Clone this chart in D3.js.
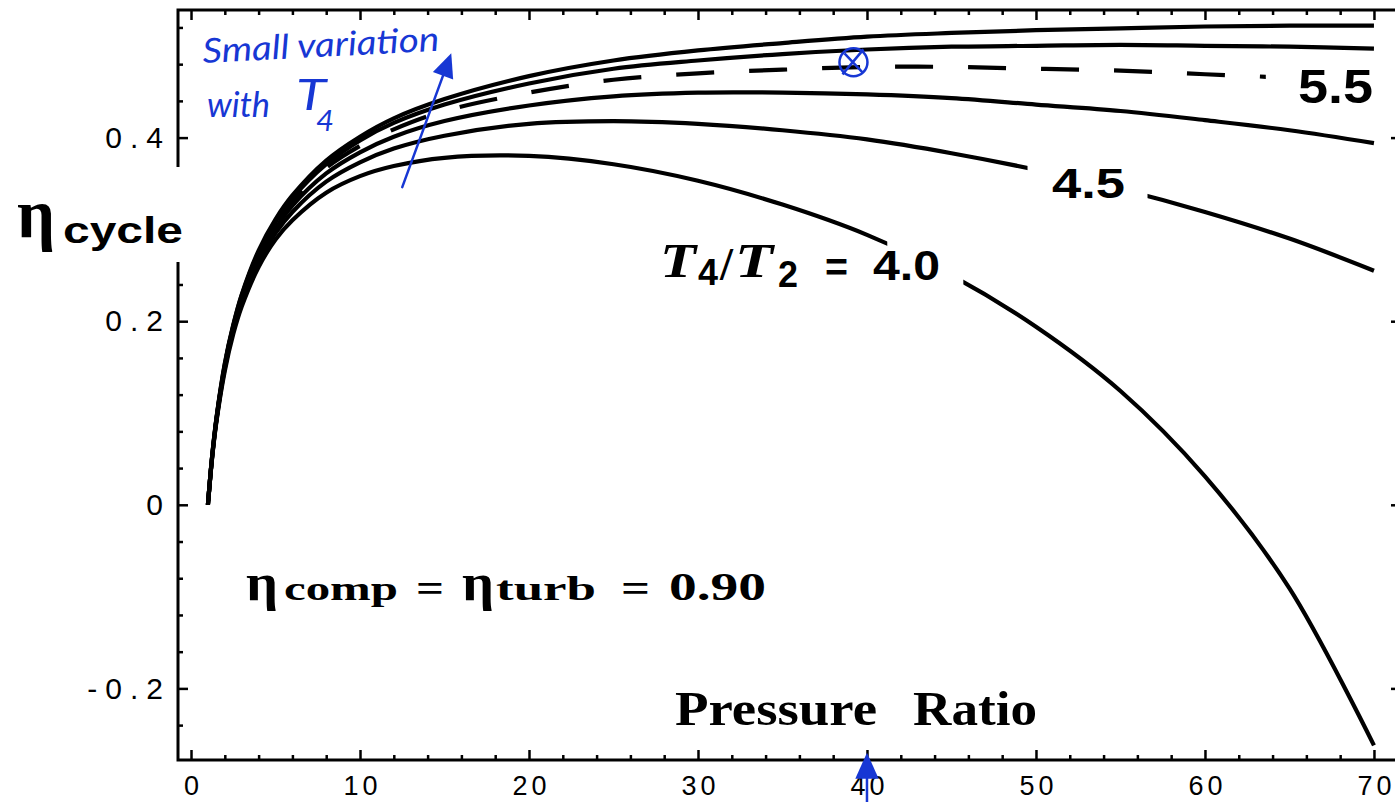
<!DOCTYPE html>
<html>
<head>
<meta charset="utf-8">
<script src="https://cdn.jsdelivr.net/npm/d3@7"></script>
<style>
  body { margin: 0; background: #fff; }
  svg { display: block; }
</style>
</head>
<body>
<svg width="1395" height="802"></svg>
<script>
// Brayton cycle efficiency vs pressure ratio
const pressureRatio = [1, 1.25, 1.5, 2, 2.5, 3, 4, 5, 6, 8, 10, 12, 15, 20, 25, 30, 35, 40, 45, 50, 55, 60, 65, 70];
const etaT40 = [0, .051, .090, .146, .186, .216, .259, .289, .310, .340, .358, .369, .378, .380, .371, .353, .327, .294, .250, .194, .124, .031, -.091, -.262];
const etaT45 = [0, .052, .091, .149, .190, .221, .265, .296, .319, .352, .373, .388, .402, .415, .418, .415, .408, .398, .383, .365, .344, .319, .290, .255];
const etaT50 = [0, .052, .092, .151, .192, .224, .269, .301, .326, .361, .384, .401, .418, .435, .445, .449, .449, .447, .443, .436, .429, .419, .408, .394];
const etaT55 = [0, .053, .093, .152, .194, .226, .273, .305, .330, .367, .391, .409, .429, .449, .463, .470, .474, .477, .477, .475, .473, .469, .465, .459];
const etaT60 = [0, .053, .093, .153, .195, .228, .275, .308, .334, .371, .397, .416, .436, .459, .475, .484, .491, .496, .499, .500, .501, .500, .499, .497];
const etaT65 = [0, .053, .094, .154, .196, .229, .277, .311, .337, .375, .401, .421, .442, .467, .484, .495, .503, .510, .514, .517, .519, .521, .522, .522];

const temperatureRatios = ["4.0", "4.5", "5.0", "5.5", "6.0", "6.5"];
const etaSeries = [etaT40, etaT45, etaT50, etaT55, etaT60, etaT65];

const xMajorTicks = [0, 10, 20, 30, 40, 50, 60, 70];
const xTickLabels = ["0", "10", "20", "30", "40", "50", "60", "70"];
const yMajorTicks = [-0.2, 0, 0.2, 0.4];
const yTickLabels = ["-0.2", "0", "0.2", "0.4"];

// plot range of the frame (data units)
const plotRangeX = [-0.77, 71.6];
const plotRangeY = [-0.278, 0.539];

const svg = d3.select("svg");
const serif = "'Liberation Serif', 'Times New Roman', serif";
const sans = "'Liberation Sans', Arial, sans-serif";
const blue = "#1737d4";

const x = d3.scaleLinear().domain(plotRangeX).range([178, 1401]);
const y = d3.scaleLinear().domain(plotRangeY).range([760, 10]);

// ---- frame with inward ticks ----
const xMinor = d3.range(0, 71, 2).filter(d => d % 10 !== 0);
const yMinor = d3.range(-6, 14).filter(i => i % 5 !== 0).map(i => +(i * 0.04).toFixed(2));

function styleAxis(g) {
  g.select(".domain").remove();
  g.selectAll(".tick line").attr("stroke", "#000").attr("stroke-width", 2.5);
  g.selectAll(".tick text").attr("fill", "#000");
}

const frame = svg.append("g");

frame.append("g").attr("transform", `translate(0,${y(plotRangeY[0])})`)
  .call(d3.axisBottom(x).tickValues(xMinor).tickSize(-5).tickFormat(""))
  .call(styleAxis);
frame.append("g").attr("transform", `translate(0,${y(plotRangeY[0])})`)
  .call(d3.axisBottom(x).tickValues(xMajorTicks).tickSize(-10).tickPadding(16)
    .tickFormat((d, i) => xTickLabels[i]))
  .call(styleAxis)
  .call(g => g.selectAll(".tick text")
    .attr("font-family", sans).attr("font-size", 27)
    .attr("letter-spacing", 4).attr("dx", 2));

frame.append("g").attr("transform", `translate(0,${y(plotRangeY[1])})`)
  .call(d3.axisTop(x).tickValues(xMinor).tickSize(-5).tickFormat(""))
  .call(styleAxis);
frame.append("g").attr("transform", `translate(0,${y(plotRangeY[1])})`)
  .call(d3.axisTop(x).tickValues(xMajorTicks).tickSize(-10).tickFormat(""))
  .call(styleAxis);

frame.append("g").attr("transform", `translate(${x(plotRangeX[0])},0)`)
  .call(d3.axisLeft(y).tickValues(yMinor).tickSize(-5).tickFormat(""))
  .call(styleAxis);
frame.append("g").attr("transform", `translate(${x(plotRangeX[0])},0)`)
  .call(d3.axisLeft(y).tickValues(yMajorTicks).tickSize(-10).tickPadding(7)
    .tickFormat((d, i) => yTickLabels[i]))
  .call(styleAxis)
  .call(g => g.selectAll(".tick text")
    .attr("font-family", sans).attr("font-size", 30)
    .attr("letter-spacing", 8));

frame.append("g").attr("transform", `translate(${x(plotRangeX[1])},0)`)
  .call(d3.axisRight(y).tickValues(yMajorTicks).tickSize(-10).tickFormat(""))
  .call(styleAxis);

frame.append("rect")
  .attr("x", x(plotRangeX[0])).attr("y", y(plotRangeY[1]))
  .attr("width", x(plotRangeX[1]) - x(plotRangeX[0]))
  .attr("height", y(plotRangeY[0]) - y(plotRangeY[1]))
  .attr("fill", "none").attr("stroke", "#000").attr("stroke-width", 3);

// ---- curves (with gaps where the labels sit) ----
const labelGaps = { "4.0": [41.2, 45.7], "4.5": [49.5, 56.6], "5.5": [63.6, 80] };

const defs = svg.append("defs");
const line = d3.line()
  .x((d, i) => x(pressureRatio[i]))
  .y(d => y(d))
  .curve(d3.curveCatmullRom.alpha(0.5));

const curves = svg.append("g");
temperatureRatios.forEach((t, k) => {
  const gap = labelGaps[t];
  const path = curves.append("path")
    .datum(etaSeries[k])
    .attr("d", line)
    .attr("fill", "none")
    .attr("stroke", "#000")
    .attr("stroke-width", 4.2)
    .attr("stroke-linejoin", "round");
  if (gap) {
    const id = "clip" + k;
    const cp = defs.append("clipPath").attr("id", id);
    cp.append("rect").attr("x", 0).attr("y", 0).attr("width", x(gap[0])).attr("height", 802);
    cp.append("rect").attr("x", x(gap[1])).attr("y", 0).attr("width", 1395).attr("height", 802);
    path.attr("clip-path", `url(#${id})`);
  }
  if (t === "5.5") {
    // dashes with a period of ~73px, one dash starting near x = 895
    const node = path.node();
    const total = node.getTotalLength();
    let lo = 0, hi = total;
    for (let n = 0; n < 30; n++) {
      const mid = (lo + hi) / 2;
      if (node.getPointAtLength(mid).x < 895) lo = mid; else hi = mid;
    }
    path.attr("stroke-dasharray", "38,35")
      .attr("stroke-dashoffset", 73 - (lo % 73));
  }
});

// ---- text labels ----
function piece(g, px, py, str, font, size, width, opts = {}) {
  const t = g.append("text")
    .attr("x", px).attr("y", py)
    .attr("font-family", font)
    .attr("font-size", size)
    .attr("font-weight", opts.weight || "bold")
    .attr("font-style", opts.italic ? "italic" : "normal")
    .attr("fill", opts.fill || "#000")
    .text(str);
  if (width) t.attr("textLength", width).attr("lengthAdjust", "spacingAndGlyphs");
  return t;
}

const labels = svg.append("g");

// y axis title with a gap in the frame line
labels.append("rect").attr("x", 168).attr("y", 167).attr("width", 20).attr("height", 95).attr("fill", "#fff");
piece(labels, 17, 237, "η", serif, 70, 38);
piece(labels, 63, 243, "cycle", sans, 37, 120);

// efficiency note
piece(labels, 246, 600, "η", serif, 52, 32);
piece(labels, 284, 600, "comp", serif, 33, 114);
piece(labels, 416, 602, "=", serif, 40, 28);
piece(labels, 462, 600, "η", serif, 52, 32);
piece(labels, 496, 600, "turb", serif, 33, 100);
piece(labels, 621, 602, "=", serif, 40, 29);
piece(labels, 669, 600, "0.90", serif, 40, 97);

// x axis title
piece(labels, 675, 725, "Pressure", serif, 48, 202);
piece(labels, 913, 725, "Ratio", serif, 48, 124);

// curve labels
piece(labels, 660, 277, "T", serif, 48, 36, { italic: true });
piece(labels, 698, 285, "4", sans, 36, 20);
piece(labels, 720, 280, "/", serif, 46, 13);
piece(labels, 735, 277, "T", serif, 48, 38, { italic: true });
piece(labels, 778, 287, "2", sans, 36, 20);
piece(labels, 825, 281, "=", sans, 40, 23);
piece(labels, 873, 280, "4.0", sans, 42, 67);
piece(labels, 1052, 198, "4.5", sans, 43, 73);
piece(labels, 1298, 103, "5.5", sans, 48, 75);

// ---- blue hand annotations ----
const notes = svg.append("g");
const hand = "Lato, 'DejaVu Sans', sans-serif";
piece(notes, 203, 63, "Small variation", hand, 34, 237, { italic: true, weight: 400, fill: blue })
  .attr("transform", "rotate(-3 203 63)");
piece(notes, 207, 117, "with", hand, 34, 63, { italic: true, weight: 400, fill: blue });
piece(notes, 296, 110, "T", hand, 42, 30, { italic: true, weight: 400, fill: blue });
piece(notes, 316, 131, "4", hand, 28, 18, { italic: true, weight: 400, fill: blue });

function arrow(g, x1, y1, x2, y2, head) {
  const ang = Math.atan2(y2 - y1, x2 - x1);
  g.append("line")
    .attr("x1", x1).attr("y1", y1).attr("x2", x2 - Math.cos(ang) * head * 0.6).attr("y2", y2 - Math.sin(ang) * head * 0.6)
    .attr("stroke", blue).attr("stroke-width", 2.5).attr("stroke-linecap", "round");
  const p = [
    [x2, y2],
    [x2 - head * Math.cos(ang) + head * 0.45 * Math.sin(ang), y2 - head * Math.sin(ang) - head * 0.45 * Math.cos(ang)],
    [x2 - head * Math.cos(ang) - head * 0.45 * Math.sin(ang), y2 - head * Math.sin(ang) + head * 0.45 * Math.cos(ang)]
  ];
  g.append("path").attr("d", "M" + p.join("L") + "Z").attr("fill", blue);
}

// arrow pointing up the bundle of curves
arrow(notes, x(12.5), y(0.346), x(15.4), y(0.492), 24);
// arrow under the axis at pressure ratio 40
arrow(notes, x(40), 802, x(40), y(-0.270), 26);

// circled point on the T4/T2 = 5.5 curve
const cx = x(39.2), cy = y(0.482);
notes.append("circle").attr("cx", cx).attr("cy", cy).attr("r", 14)
  .attr("fill", "none").attr("stroke", blue).attr("stroke-width", 2.5);
notes.append("path")
  .attr("d", `M${cx - 11},${cy + 12}L${cx + 10},${cy - 13}M${cx - 9},${cy - 9}L${cx + 9},${cy + 10}`)
  .attr("stroke", blue).attr("stroke-width", 2.5).attr("fill", "none");
</script>
</body>
</html>
